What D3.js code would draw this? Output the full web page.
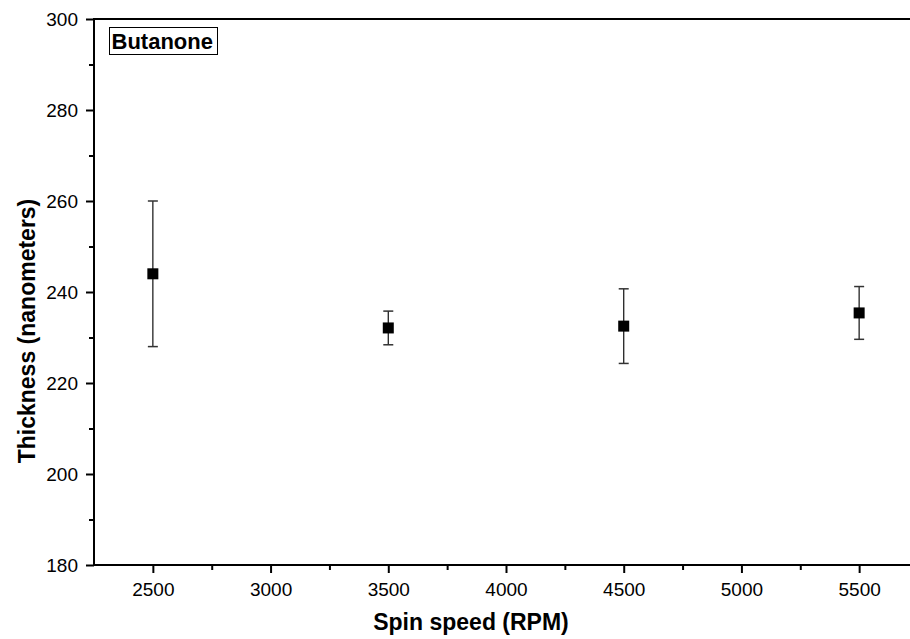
<!DOCTYPE html>
<html><head><meta charset="utf-8">
<script src="https://cdn.jsdelivr.net/npm/d3@7"></script>
<style>body{margin:0;background:#fff}svg{display:block}</style>
</head><body>
<svg id="c" width="910" height="639"></svg>
<script>
const speeds = [2500, 3500, 4500, 5500];
const thickness = [244.0, 232.1, 232.5, 235.4];
const errors = [16.0, 3.7, 8.2, 5.8];
const xTicks = [2500, 3000, 3500, 4000, 4500, 5000, 5500];
const yTicks = [180, 200, 220, 240, 260, 280, 300];
const label = "Butanone";

const svg = d3.select("#c");
const L = 94, R = 918, T = 19, B = 565;
const x = d3.scaleLinear().domain([2250, 5750]).range([L, R]);
const y = d3.scaleLinear().domain([180, 300]).range([B, T]);
const font = "'Liberation Sans', Arial, sans-serif";

// frame
svg.append("rect").attr("x", L).attr("y", T).attr("width", R - L).attr("height", B - T)
  .attr("fill", "none").attr("stroke", "#000").attr("stroke-width", 2);

// x axis
const xa = svg.append("g").attr("transform", `translate(0,${B})`)
  .call(d3.axisBottom(x).tickValues(xTicks).tickSize(8).tickPadding(10).tickFormat(d3.format("d")));
xa.select(".domain").remove();
xa.selectAll("line").attr("stroke-width", 2);
xa.selectAll("text").attr("font-family", font).attr("font-size", 19).attr("fill", "#000");
svg.append("g").attr("transform", `translate(0,${B})`)
  .call(d3.axisBottom(x).tickValues(d3.range(2750, 5750, 500)).tickSize(5).tickFormat(""))
  .call(g => { g.select(".domain").remove(); g.selectAll("line").attr("stroke-width", 2); });

// y axis
const ya = svg.append("g").attr("transform", `translate(${L},0)`)
  .call(d3.axisLeft(y).tickValues(yTicks).tickSize(8).tickPadding(8));
ya.select(".domain").remove();
ya.selectAll("line").attr("stroke-width", 2);
ya.selectAll("text").attr("font-family", font).attr("font-size", 19).attr("fill", "#000");
svg.append("g").attr("transform", `translate(${L},0)`)
  .call(d3.axisLeft(y).tickValues(d3.range(190, 300, 20)).tickSize(5).tickFormat(""))
  .call(g => { g.select(".domain").remove(); g.selectAll("line").attr("stroke-width", 2); });

// titles
svg.append("text").attr("x", 471).attr("y", 630).attr("text-anchor", "middle")
  .attr("font-family", font).attr("font-weight", "bold").attr("font-size", 23).text("Spin speed (RPM)");
svg.append("text").attr("transform", `translate(35,331) rotate(-90)`).attr("text-anchor", "middle")
  .attr("font-family", font).attr("font-weight", "bold").attr("font-size", 23).text("Thickness (nanometers)");

// label box
svg.append("rect").attr("x", 109.5).attr("y", 27.5).attr("width", 108).attr("height", 27)
  .attr("fill", "#fff").attr("stroke", "#000").attr("stroke-width", 1);
svg.append("text").attr("x", 111.5).attr("y", 49).attr("text-anchor", "start")
  .attr("font-family", font).attr("font-weight", "bold").attr("font-size", 22).text(label);

// error bars + markers
const pts = speeds.map((s, i) => ({s, v: thickness[i], e: errors[i]}));
const g = svg.append("g");
pts.forEach(p => {
  const cx = x(p.s);
  g.append("line").attr("x1", cx).attr("x2", cx).attr("y1", y(p.v + p.e)).attr("y2", y(p.v - p.e))
    .attr("stroke", "#222").attr("stroke-width", 1.3);
  [p.v + p.e, p.v - p.e].forEach(v => g.append("line").attr("x1", cx - 5).attr("x2", cx + 5)
    .attr("y1", y(v)).attr("y2", y(v)).attr("stroke", "#333").attr("stroke-width", 1.5));
  g.append("rect").attr("x", cx - 5.5).attr("y", y(p.v) - 5.5).attr("width", 11).attr("height", 11).attr("fill", "#000");
});
</script>
</body></html>
